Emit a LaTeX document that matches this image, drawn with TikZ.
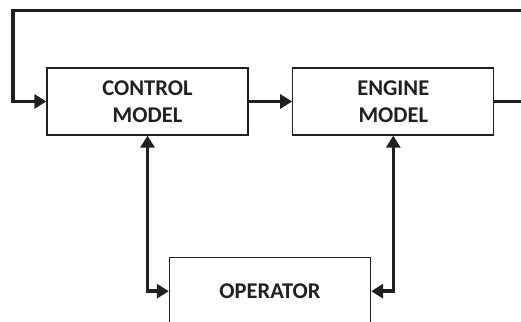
\documentclass[tikz,border=0pt]{standalone}
\usepackage{fontspec}
\setmainfont{Carlito}
\usetikzlibrary{arrows.meta}
\definecolor{ink}{HTML}{231F20}
\begin{document}
\begin{tikzpicture}[x=1pt,y=-1pt,
  block/.style={draw=ink, line width=1.3pt, minimum width=201pt, minimum height=67pt,
    align=center, font=\fontsize{22.5}{26.5}\selectfont\bfseries, text=ink, inner sep=0pt},
  conn/.style={draw=ink, line width=3.5pt, -{Triangle[length=12pt,width=14pt]}},
  biconn/.style={draw=ink, line width=3.5pt, {Triangle[length=12pt,width=14pt]}-{Triangle[length=12pt,width=14pt]}}]
  \useasboundingbox (0,0) rectangle (521,321);
  \clip (0,0) rectangle (521,321);
  % main blocks
  \node[block] (ctrl) at (147.5,101.5) {CONTROL\\MODEL};
  \node[block] (eng) at (393.3,101.5) {ENGINE\\MODEL};
  \node[block] (op) at (270,291.2) {OPERATOR};
  % feedback loop routing points
  \coordinate (fbR) at (545,101.5);
  \coordinate (fbL) at (13,10.5);
  % signal flow
  \draw[conn] (ctrl) -- (eng);
  \draw[conn] (eng.east) -- (fbR) |- (fbL) |- (ctrl.west);
  % operator links
  \draw[biconn] (ctrl.south) |- (op.west);
  \draw[biconn] (eng.south) |- (op.east);
\end{tikzpicture}
\end{document}
